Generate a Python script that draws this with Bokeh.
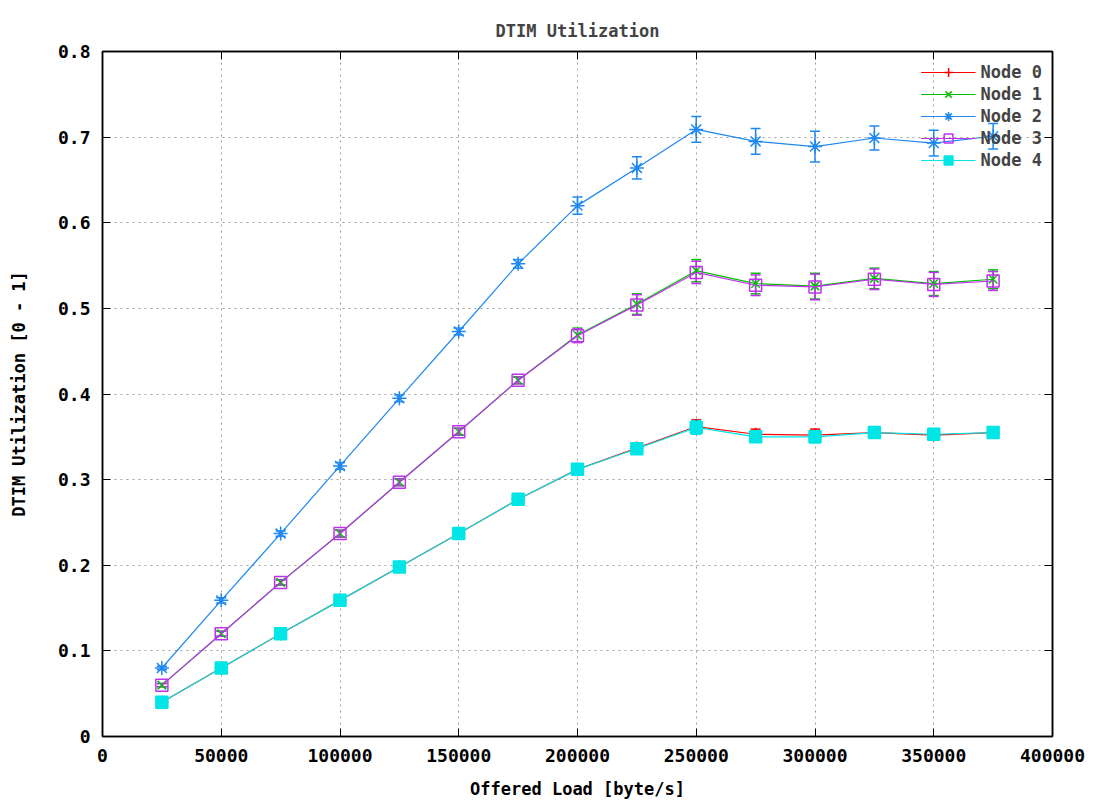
from bokeh.plotting import figure
from bokeh.models import (ColumnDataSource, Whisker, TeeHead, Range1d, LinearAxis,
                          FixedTicker, BasicTickFormatter, Legend, LegendItem)
from bokeh.embed import file_html
from bokeh.resources import INLINE

loads = [25000, 50000, 75000, 100000, 125000, 150000, 175000, 200000,
         225000, 250000, 275000, 300000, 325000, 350000, 375000]

node0 = [0.040, 0.080, 0.120, 0.159, 0.198, 0.237, 0.277, 0.312, 0.337, 0.362, 0.353, 0.352, 0.355, 0.352, 0.355]
node0_err = [0.002, 0.002, 0.003, 0.003, 0.003, 0.003, 0.003, 0.004, 0.006, 0.008, 0.006, 0.007, 0.006, 0.006, 0.005]
node1 = [0.060, 0.120, 0.180, 0.237, 0.297, 0.356, 0.416, 0.469, 0.505, 0.544, 0.529, 0.526, 0.535, 0.529, 0.534]
node1_err = [0.002, 0.003, 0.003, 0.004, 0.004, 0.004, 0.004, 0.008, 0.012, 0.013, 0.012, 0.015, 0.012, 0.014, 0.011]
node2 = [0.080, 0.159, 0.237, 0.316, 0.395, 0.473, 0.552, 0.620, 0.664, 0.709, 0.695, 0.689, 0.699, 0.693, 0.701]
node2_err = [0.002, 0.003, 0.003, 0.004, 0.004, 0.004, 0.005, 0.010, 0.013, 0.015, 0.015, 0.018, 0.014, 0.015, 0.015]
node3 = [0.060, 0.120, 0.180, 0.237, 0.297, 0.356, 0.416, 0.468, 0.504, 0.542, 0.527, 0.525, 0.534, 0.528, 0.532]
node3_err = [0.002, 0.003, 0.003, 0.004, 0.004, 0.004, 0.004, 0.008, 0.012, 0.013, 0.012, 0.015, 0.012, 0.014, 0.011]
node4 = [0.040, 0.080, 0.120, 0.159, 0.198, 0.237, 0.277, 0.312, 0.336, 0.361, 0.350, 0.350, 0.355, 0.353, 0.355]
node4_err = [0.002, 0.002, 0.003, 0.003, 0.003, 0.003, 0.003, 0.004, 0.006, 0.008, 0.006, 0.007, 0.006, 0.006, 0.005]

names = ["Node 0", "Node 1", "Node 2", "Node 3", "Node 4"]
series = [node0, node1, node2, node3, node4]
errors = [node0_err, node1_err, node2_err, node3_err, node4_err]
colors = ["#ff0000", "#00c000", "#1e88f0", "#c030f0", "#00e6e6"]
markers = ["cross", "x", "asterisk", "square", "square"]
fills = [None, None, None, None, "#00e6e6"]
sizes = [13, 12, 14, 12, 12]

x_ticks = [0, 50000, 100000, 150000, 200000, 250000, 300000, 350000, 400000]
y_ticks = [0, 0.1, 0.2, 0.3, 0.4, 0.5, 0.6, 0.7, 0.8]
y_tick_labels = ["0", "0.1", "0.2", "0.3", "0.4", "0.5", "0.6", "0.7", "0.8"]

FONT = "DejaVu Sans Mono"

p = figure(frame_width=950, frame_height=685,
           x_range=Range1d(0, 400000), y_range=Range1d(0, 0.8),
           output_backend="svg", toolbar_location=None,
           min_border_left=102, min_border_right=46, min_border_top=51, min_border_bottom=69,
           title="DTIM Utilization")
p.title.align = "center"
p.title.text_font = FONT
p.title.text_font_size = "17px"
p.title.text_font_style = "bold"
p.title.offset = 0
p.title.standoff = 22
p.background_fill_color = "white"
p.border_fill_color = "white"
p.outline_line_color = "black"
p.outline_line_width = 1.5

for ax in (p.xaxis[0], p.yaxis[0]):
    ax.major_label_text_font = FONT
    ax.major_label_text_font_style = "bold"
    ax.major_label_text_font_size = "18px"
    ax.major_label_text_color = "black"
    ax.axis_label_text_font = FONT
    ax.axis_label_text_font_style = "bold"
    ax.axis_label_text_font_size = "17px"
    ax.axis_label_text_color = "black"
    ax.axis_line_color = "black"
    ax.axis_line_width = 1.5
    ax.major_tick_in = 8
    ax.major_tick_out = 0
    ax.major_tick_line_color = "black"
    ax.minor_tick_line_color = None

p.xaxis[0].ticker = FixedTicker(ticks=x_ticks)
p.xaxis[0].formatter = BasicTickFormatter(use_scientific=False)
p.xaxis[0].axis_label = "Offered Load [byte/s]"
p.xaxis[0].major_label_standoff = 12
p.xaxis[0].axis_label_standoff = 14
p.yaxis[0].ticker = FixedTicker(ticks=y_ticks)
p.yaxis[0].major_label_overrides = {t: l for t, l in zip(y_ticks, y_tick_labels)}
p.yaxis[0].axis_label = "DTIM Utilization [0 - 1]"
p.yaxis[0].major_label_standoff = 12
p.yaxis[0].axis_label_standoff = 26

# mirrored tick marks on the top and right edges (no labels)
for loc, ticks in (("above", x_ticks), ("right", y_ticks)):
    mirror = LinearAxis(ticker=FixedTicker(ticks=ticks),
                        major_label_overrides={t: "" for t in ticks},
                        major_tick_in=8, major_tick_out=0, minor_tick_line_color=None,
                        axis_line_color="black", axis_line_width=1.5,
                        major_label_standoff=0)
    p.add_layout(mirror, loc)

p.xgrid.ticker = FixedTicker(ticks=x_ticks)
p.ygrid.ticker = FixedTicker(ticks=y_ticks)
for g in (p.xgrid[0], p.ygrid[0]):
    g.grid_line_color = "#a0a0a0"
    g.grid_line_dash = "2 4"
    g.grid_line_width = 1

items = []
for name, ys, err, col, mk, fc, sz in zip(names, series, errors, colors, markers, fills, sizes):
    src = ColumnDataSource(dict(x=loads, y=ys,
                                lo=[a - e for a, e in zip(ys, err)],
                                hi=[a + e for a, e in zip(ys, err)]))
    w = Whisker(base="x", lower="lo", upper="hi", source=src, dimension="height",
                line_color=col, line_width=1.5,
                upper_head=TeeHead(size=10, line_color=col, line_width=1.5),
                lower_head=TeeHead(size=10, line_color=col, line_width=1.5))
    p.add_layout(w)
    ln = p.line("x", "y", source=src, line_color=col, line_width=1.2)
    sc = p.scatter("x", "y", source=src, marker=mk, size=sz, line_color=col,
                   line_width=1.5, fill_color=fc if fc else None)
    items.append(LegendItem(label=name, renderers=[ln, sc]))

leg = Legend(items=items, location="top_right")
leg.label_text_font = FONT
leg.label_text_font_style = "bold"
leg.label_text_font_size = "17px"
leg.background_fill_alpha = 0
leg.border_line_alpha = 0
leg.spacing = 0
leg.glyph_width = 55
leg.label_height = 22
leg.glyph_height = 22
leg.padding = 4
leg.margin = 6
p.add_layout(leg, "center")

open("out.html", "w").write(file_html(p, INLINE))
